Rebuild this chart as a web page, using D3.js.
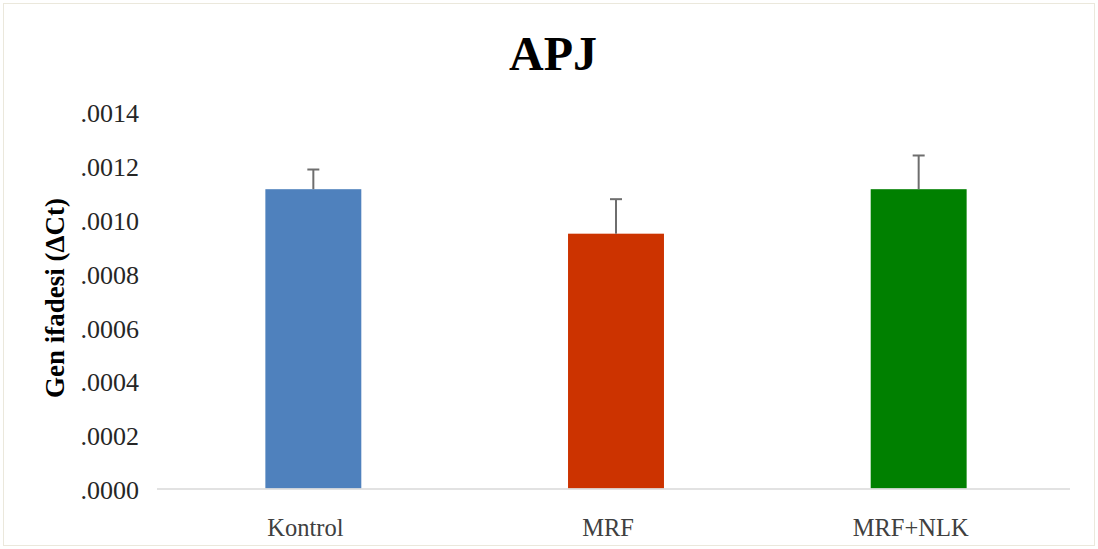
<!DOCTYPE html>
<html><head><meta charset="utf-8">
<script src="https://cdn.jsdelivr.net/npm/d3@7"></script>
<style>body{margin:0;background:#fff}svg{display:block}</style>
</head><body>
<svg id="c" width="1098" height="549"></svg>
<script>
const categories = ["Kontrol", "MRF", "MRF+NLK"];
const values = [0.001110, 0.000945, 0.001110];
const errors = [0.000073, 0.000128, 0.000125];
const colors = ["#4f81bd", "#cc3300", "#008000"];
const yTicks = [0, 0.0002, 0.0004, 0.0006, 0.0008, 0.0010, 0.0012, 0.0014];
const title = "APJ";
const yLabel = "Gen ifadesi (ΔCt)";

const svg = d3.select("#c");
const W = 1098, H = 549;
const m = {left: 162, right: 28, top: 111, bottom: 60};
const x = d3.scaleBand().domain(categories).range([m.left, W - m.right]).paddingInner(0.683).paddingOuter(0.3415);
const y = d3.scaleLinear().domain([0, 0.0014]).range([H - m.bottom - 0.5, m.top]);

svg.append("rect").attr("x", 3.5).attr("y", 3.5).attr("width", W - 7).attr("height", H - 7)
  .attr("fill", "#fff").attr("stroke", "#ebe8dc").attr("stroke-width", 1);

svg.append("text").attr("x", 553).attr("y", 70).attr("text-anchor", "middle")
  .attr("font-family", "Liberation Serif, Times New Roman, serif").attr("font-weight", "bold")
  .attr("font-size", 48).attr("fill", "#000").text(title);

// y axis labels
const yAxis = d3.axisLeft(y).tickValues(yTicks).tickSize(0).tickPadding(0)
  .tickFormat(d => d3.format(".4f")(d).replace(/^0/, ""));
const ya = svg.append("g").attr("transform", `translate(139,2)`).call(yAxis);
ya.select(".domain").remove();
ya.selectAll("text").attr("font-family", "Liberation Serif, Times New Roman, serif")
  .attr("font-size", 26).attr("fill", "#262626");

// bars
svg.selectAll("rect.bar").data(categories).join("rect").attr("class", "bar")
  .attr("x", d => x(d)).attr("width", x.bandwidth())
  .attr("y", (d, i) => y(values[i])).attr("height", (d, i) => y(0) - y(values[i]))
  .attr("fill", (d, i) => colors[i]);

// baseline
svg.append("line").attr("x1", m.left - 5).attr("x2", W - m.right).attr("y1", y(0) + 0.5).attr("y2", y(0) + 0.5)
  .attr("stroke", "#d9d9d9").attr("stroke-width", 1.5);

// error bars
const eb = svg.append("g").attr("stroke", "#6e6e6e").attr("stroke-width", 2);
categories.forEach((c, i) => {
  const cx = x(c) + x.bandwidth() / 2;
  eb.append("line").attr("x1", cx).attr("x2", cx).attr("y1", y(values[i])).attr("y2", y(values[i] + errors[i]));
  eb.append("line").attr("x1", cx - 6).attr("x2", cx + 6).attr("y1", y(values[i] + errors[i])).attr("y2", y(values[i] + errors[i]));
});

// x labels
const xAxis = d3.axisBottom(x).tickSize(0).tickPadding(0);
const xa = svg.append("g").attr("transform", `translate(-8,${y(0)})`).call(xAxis);
xa.select(".domain").remove();
xa.selectAll("text").attr("font-family", "Liberation Serif, Times New Roman, serif")
  .attr("font-size", 24.5).attr("fill", "#404040").attr("dy", null).attr("y", 47);

// y label
svg.append("text").attr("transform", "translate(64,298) rotate(-90)").attr("text-anchor", "middle")
  .attr("font-family", "Liberation Serif, Times New Roman, serif").attr("font-weight", "bold")
  .attr("font-size", 27).attr("fill", "#000").text(yLabel);
</script>
</body></html>
